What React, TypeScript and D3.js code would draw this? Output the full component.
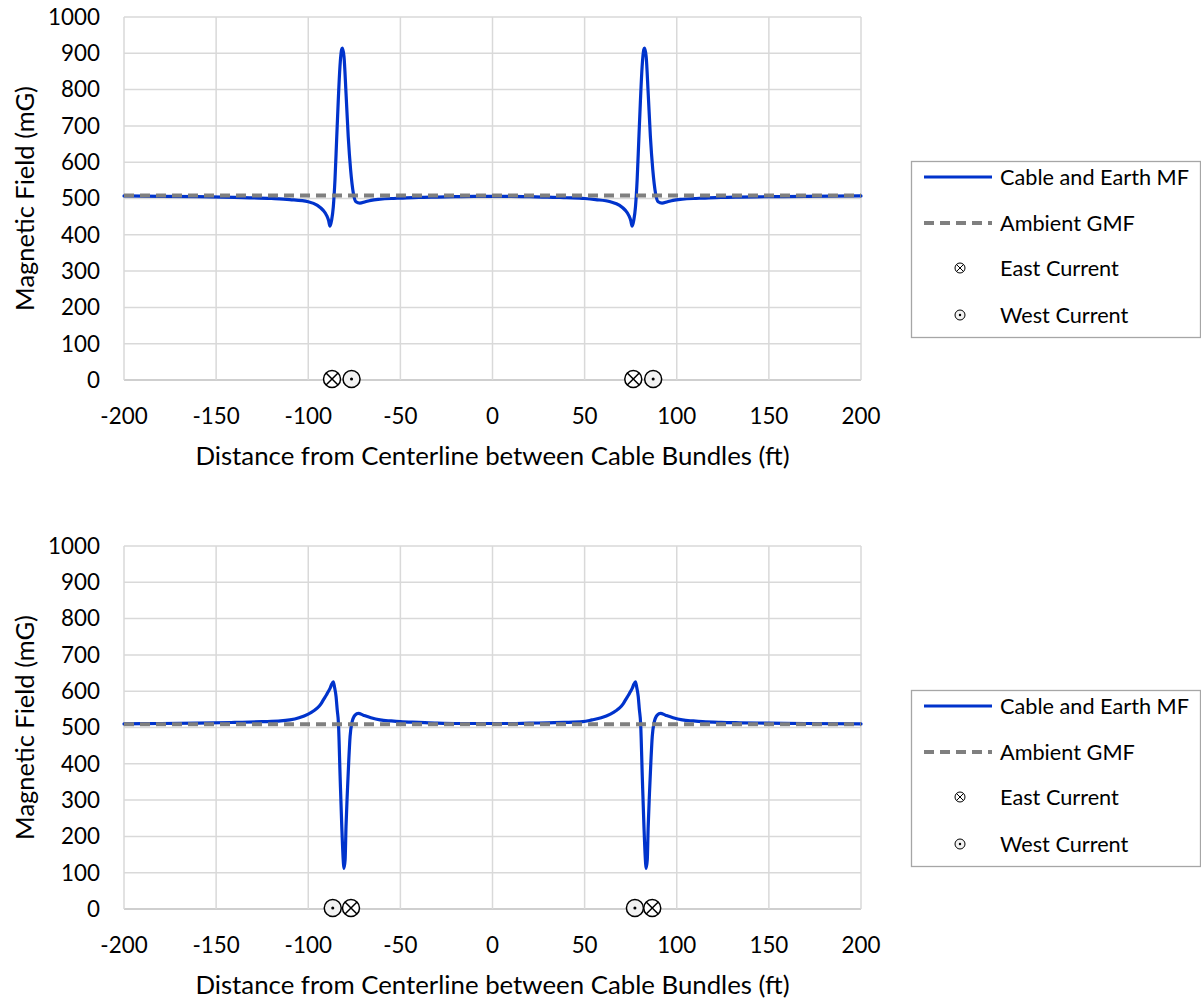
import React from "react";
import * as d3 from "d3";

// ---- Data ----
const xTicks = [-200, -150, -100, -50, 0, 50, 100, 150, 200];
const yTicks = [0, 100, 200, 300, 400, 500, 600, 700, 800, 900, 1000];

const ambientX = [-200, 200];
const ambientY1 = [508, 508];
const ambientY2 = [509, 509];

// Scenario 1 (top chart)
const s1X = [-200, -180, -160, -140, -120, -110, -100, -95, -92, -90, -89, -88.2, -87.3, -86.4, -85.5, -84.6, -83.7, -82.8, -81.9, -81.5, -80.6, -79.5, -78.3, -77, -75.5, -74.1, -72, -69, -66, -61, -55, -50, -40, -30, -20, -10, 0, 10, 20, 30, 40, 50, 56, 64, 69, 72, 74, 75, 75.8, 76.7, 77.6, 78.5, 79.4, 80.3, 81.2, 82.1, 82.5, 83.4, 84.5, 85.7, 87, 88.5, 89.9, 92, 95, 98, 103, 109, 114, 124, 134, 150, 170, 200];
const s1Y = [507, 506, 505, 503, 500, 497, 491, 481, 468, 453, 440, 424, 441, 477, 551, 661, 771, 863, 910, 914, 891, 790, 670, 579, 514, 491, 487, 491, 495, 498, 500, 501, 503, 504, 505, 506, 506, 506, 505, 504, 502, 500, 497, 491, 481, 468, 453, 440, 424, 441, 477, 551, 661, 771, 863, 910, 914, 891, 790, 670, 579, 514, 491, 487, 491, 495, 498, 500, 501, 503, 504, 505, 506, 507];

// Scenario 2 (bottom chart)
const s2X = [-200, -180, -160, -140, -125, -115, -110, -105, -100, -97, -95, -93, -91.8, -90, -89.1, -88, -87.3, -86.4, -85.7, -84.9, -84.3, -83.6, -82.7, -81.8, -80.9, -80.6, -80, -79.5, -78.8, -78, -77.3, -76.4, -74.6, -72.8, -70.1, -66, -61, -55, -50, -40, -30, -20, -10, 0, 10, 20, 30, 39, 49, 54, 59, 64, 67, 69, 71, 72.2, 74, 74.9, 76, 76.7, 77.6, 78.3, 79.1, 79.7, 80.4, 81.3, 82.2, 83.1, 83.4, 84, 84.5, 85.2, 86, 86.7, 87.6, 89.4, 91.2, 93.9, 98, 103, 109, 114, 124, 134, 150, 170, 200];
const s2Y = [510, 511, 512, 514, 516, 518, 521, 527, 537, 546, 554, 566, 576, 591, 599, 610, 619, 626, 610, 585, 550, 511, 364, 227, 126, 112, 135, 227, 319, 410, 475, 511, 534, 539, 534, 527, 521, 518, 516, 514, 512, 511, 511, 511, 511, 512, 513, 514, 516, 521, 527, 537, 546, 554, 566, 576, 591, 599, 610, 619, 626, 610, 585, 550, 511, 364, 227, 126, 112, 135, 227, 319, 410, 475, 511, 534, 539, 534, 527, 521, 518, 516, 514, 513, 512, 511, 510];

// Current markers (position in ft, type)
const markers1X = [-87.1, -76.5, 76.4, 87.2];
const markers1T = ["east", "west", "east", "west"];
const markers2X = [-86.7, -76.8, 77.3, 86.7];
const markers2T = ["west", "east", "west", "east"];

const legendLabels = ["Cable and Earth MF", "Ambient GMF", "East Current", "West Current"];

const FONT = "Lato, 'Open Sans', sans-serif";
const BLUE = "#0033CC";
const GRAY = "#7f7f7f";

function Marker({ cx, cy, r, type, sw }: { cx: number; cy: number; r: number; type: string; sw: number }) {
  const d = r * 0.7071;
  return (
    <g>
      <circle cx={cx} cy={cy} r={r} fill={type === "west" ? "#f2f2f2" : "#ffffff"} stroke="#000" strokeWidth={sw} />
      {type === "east" ? (
        <g stroke="#000" strokeWidth={sw}>
          <line x1={cx - d} y1={cy - d} x2={cx + d} y2={cy + d} />
          <line x1={cx - d} y1={cy + d} x2={cx + d} y2={cy - d} />
        </g>
      ) : (
        <circle cx={cx} cy={cy} r={Math.max(1.2, r * 0.18)} fill="#000" />
      )}
    </g>
  );
}

function Chart({ top, xs, ys, ambY, mX, mT }: { top: number; xs: number[]; ys: number[]; ambY: number[]; mX: number[]; mT: string[] }) {
  const x = d3.scaleLinear().domain([-200, 200]).range([124, 861]);
  const y = d3.scaleLinear().domain([0, 1000]).range([top + 363, top]);
  const line = d3
    .line<number>()
    .x((_, i) => x(xs[i]))
    .y((d) => y(d))
    .curve(d3.curveMonotoneX);
  const ambLine = d3
    .line<number>()
    .x((_, i) => x(ambientX[i]))
    .y((d) => y(d));
  const lgTop = top + 144;
  const rows = [lgTop + 16, lgTop + 62, lgTop + 107, lgTop + 154];
  return (
    <g fontFamily={FONT}>
      {/* grid */}
      {yTicks.map((t) => (
        <line key={"gy" + t} x1={x(-200)} x2={x(200)} y1={y(t)} y2={y(t)} stroke={t === 0 ? "#bfbfbf" : "#d9d9d9"} strokeWidth={1.5} />
      ))}
      {xTicks.map((t) => (
        <line key={"gx" + t} x1={x(t)} x2={x(t)} y1={y(0)} y2={y(1000)} stroke="#d9d9d9" strokeWidth={1.5} />
      ))}
      {/* tick labels */}
      {yTicks.map((t) => (
        <text key={"ty" + t} x={100} y={y(t)} dy="0.35em" textAnchor="end" fontSize={22.4} fill="#000">
          {t}
        </text>
      ))}
      {xTicks.map((t) => (
        <text key={"tx" + t} x={x(t)} y={y(0) + 36} dy="0.35em" textAnchor="middle" fontSize={22.4} fill="#000">
          {t}
        </text>
      ))}
      <text x={x(0)} y={y(0) + 76} dy="0.35em" textAnchor="middle" fontSize={25.8} fill="#000">
        Distance from Centerline between Cable Bundles (ft)
      </text>
      <text transform={`translate(25, ${(y(0) + y(1000)) / 2}) rotate(-90)`} dy="0.35em" textAnchor="middle" fontSize={25.5} fill="#000">
        Magnetic Field (mG)
      </text>
      {/* series */}
      <path d={line(ys) || ""} fill="none" stroke={BLUE} strokeWidth={3.2} strokeLinejoin="round" strokeLinecap="round" />
      <path d={ambLine(ambY) || ""} fill="none" stroke={GRAY} strokeWidth={4} strokeDasharray="10 6" />
      {mX.map((v, i) => (
        <Marker key={"m" + i} cx={x(v)} cy={y(0) - 1} r={8.5} type={mT[i]} sw={1.5} />
      ))}
      {/* legend */}
      <rect x={911.5} y={lgTop + 0.5} width={289} height={176} fill="#fff" stroke="#a6a6a6" strokeWidth={1.3} />
      <line x1={924} x2={992} y1={rows[0]} y2={rows[0]} stroke={BLUE} strokeWidth={3.2} />
      <line x1={924} x2={992} y1={rows[1]} y2={rows[1]} stroke={GRAY} strokeWidth={4} strokeDasharray="10 6" />
      <Marker cx={960} cy={rows[2]} r={5} type="east" sw={1} />
      <Marker cx={960} cy={rows[3]} r={5} type="west" sw={1} />
      {legendLabels.map((l, i) => (
        <text key={"lg" + i} x={1000} y={rows[i]} dy="0.35em" fontSize={21.7} fill="#000">
          {l}
        </text>
      ))}
    </g>
  );
}

export default function App() {
  return (
    <svg width={1201} height={1002} style={{ position: "absolute", left: 0, top: 0, background: "#fff" }}>
      <rect width={1201} height={1002} fill="#fff" />
      <Chart top={17} xs={s1X} ys={s1Y} ambY={ambientY1} mX={markers1X} mT={markers1T} />
      <Chart top={546} xs={s2X} ys={s2Y} ambY={ambientY2} mX={markers2X} mT={markers2T} />
    </svg>
  );
}
